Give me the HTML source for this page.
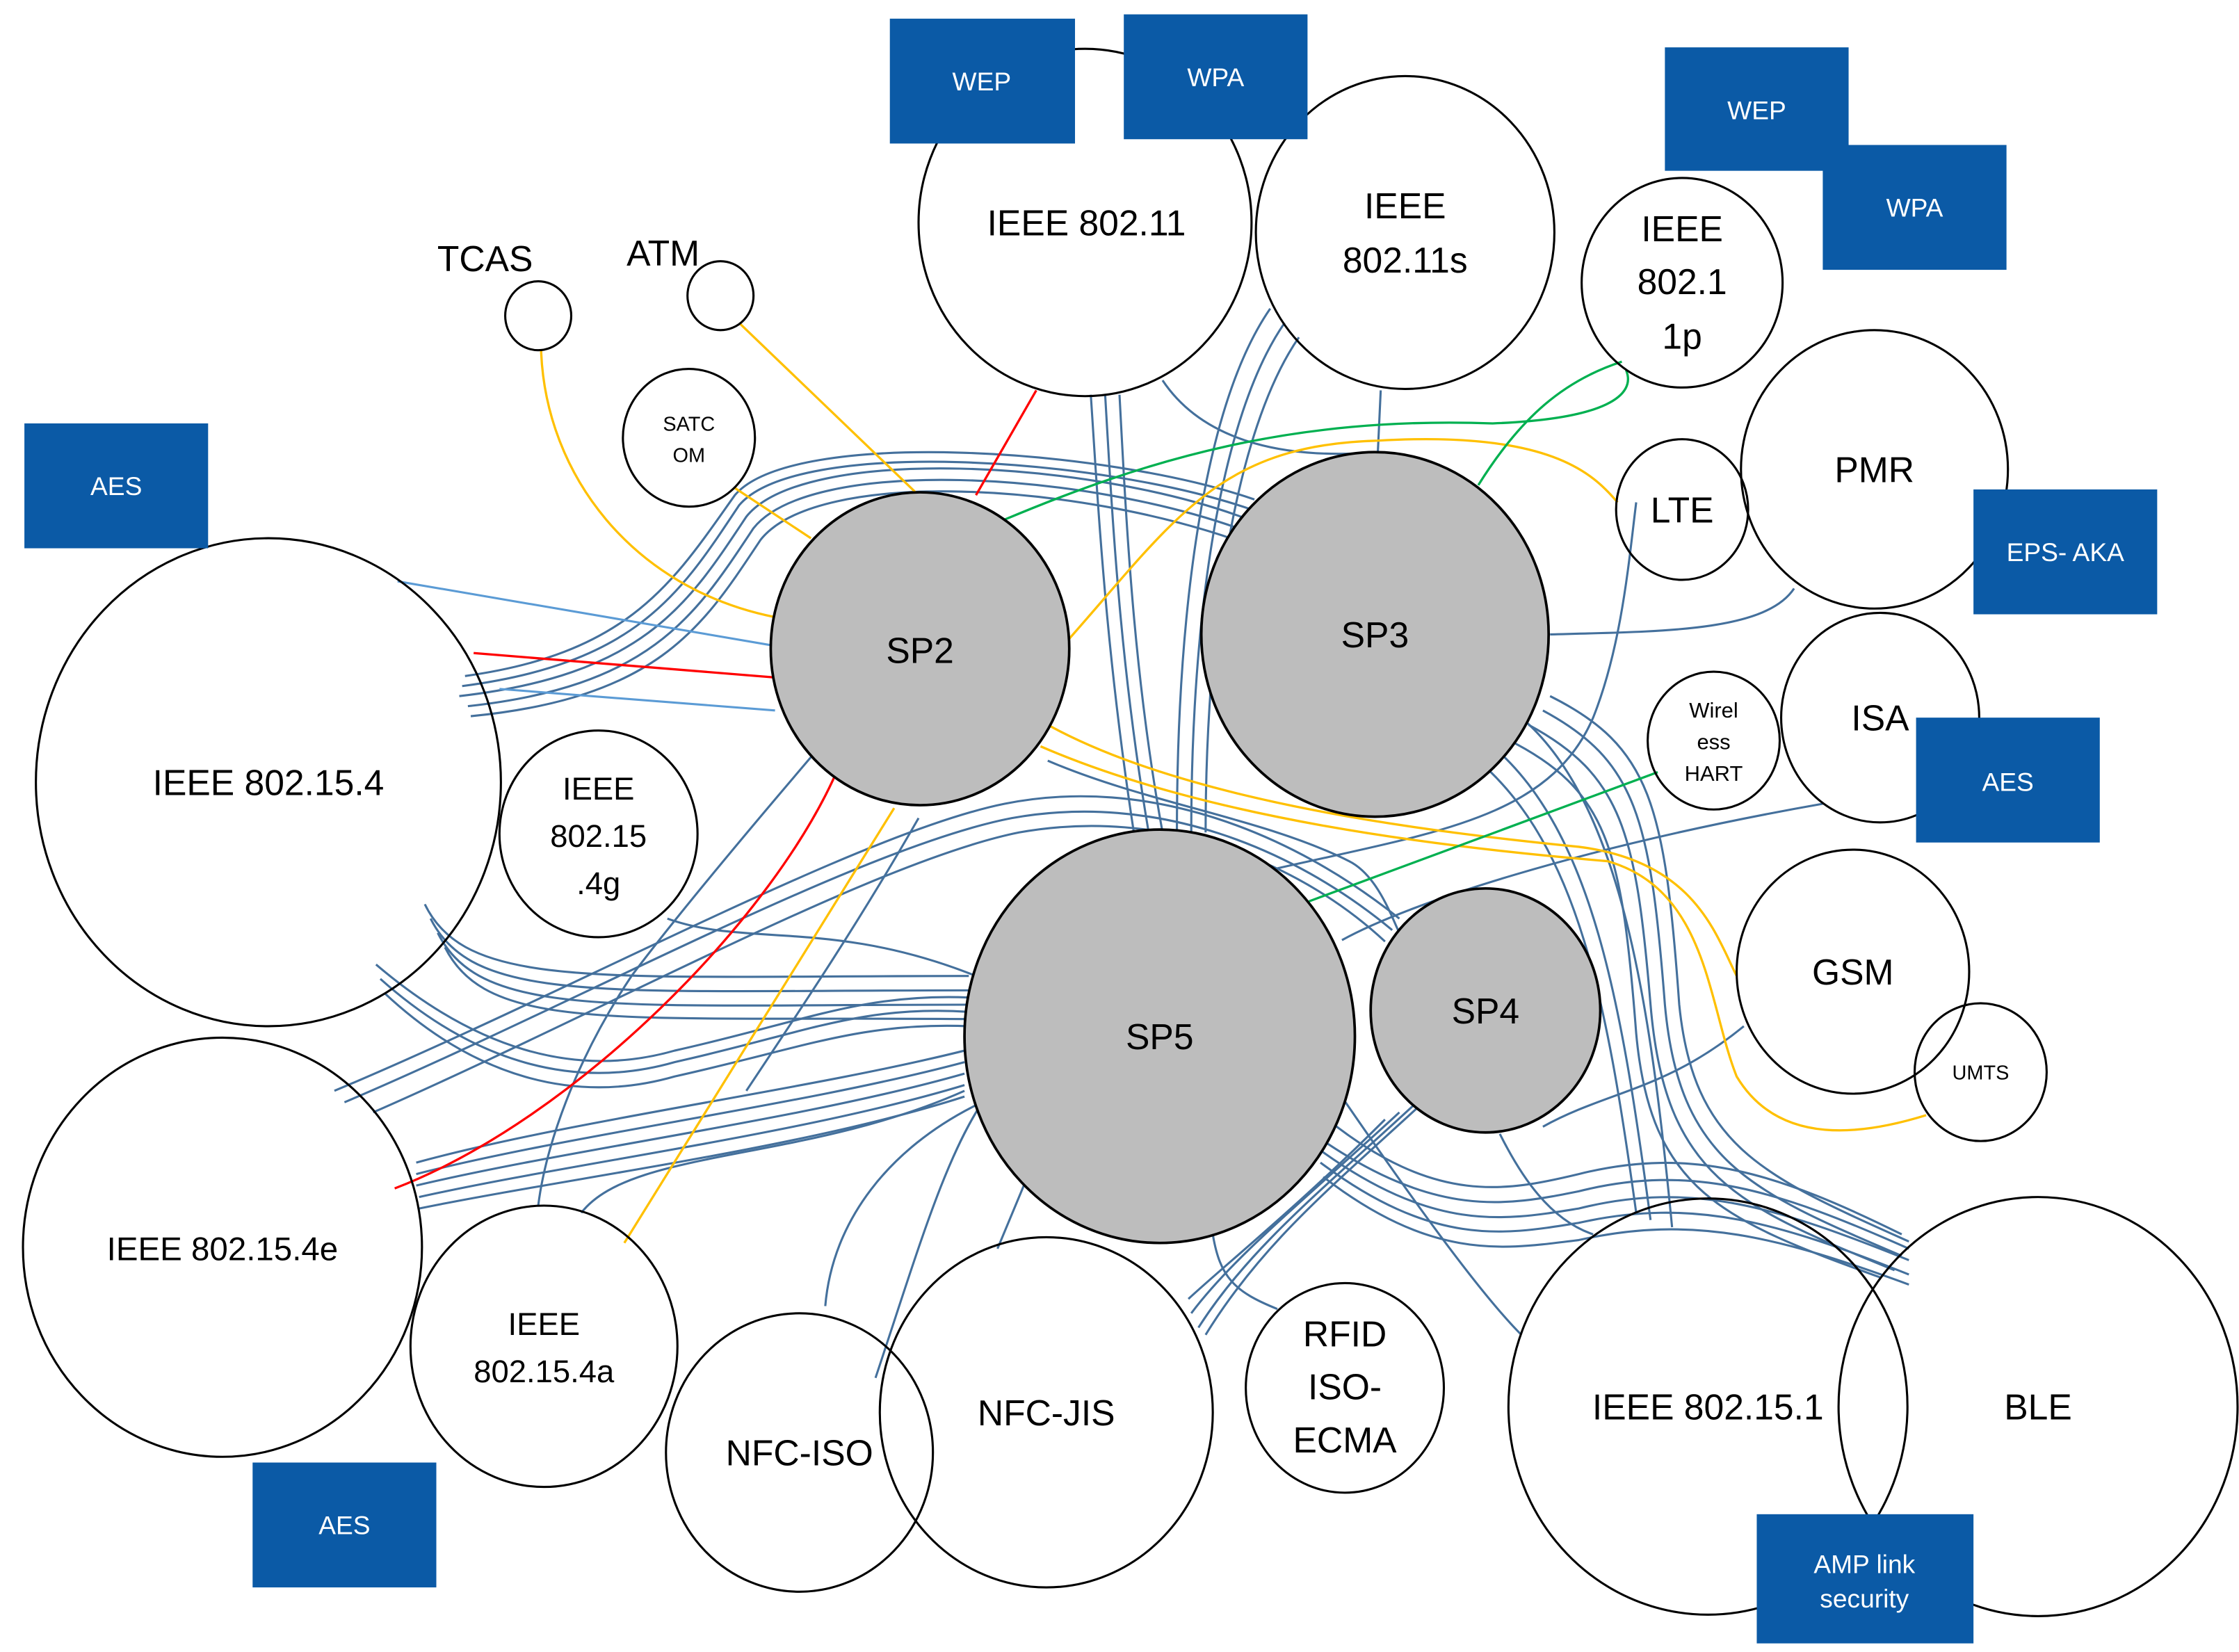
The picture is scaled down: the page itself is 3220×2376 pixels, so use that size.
<!DOCTYPE html>
<html><head><meta charset="utf-8"><style>
html,body{margin:0;padding:0;background:#fff}
svg{display:block}
text{font-family:"Liberation Sans",sans-serif}
</style></head><body>
<svg width="3220" height="2376" viewBox="0 0 1560 1151" preserveAspectRatio="none" xmlns="http://www.w3.org/2000/svg">
<rect width="1560" height="1151" fill="#fff"/>
<g fill="none" stroke="#44709c" stroke-width="1.5">
<!-- bundle 802.15.4 -> SP3 over the top -->
<path d="M320,485 C450,470 480,420 520,360 C560,310 760,320 870,362"/>
<path d="M322,478 C445,462 475,412 515,352 C555,305 765,318 872,355"/>
<path d="M324,471 C440,455 470,404 512,345 C552,298 770,312 874,348"/>
<path d="M326,492 C455,478 485,428 525,368 C565,318 755,328 868,370"/>
<path d="M328,499 C460,486 490,436 530,376 C570,326 750,336 866,378"/>
<!-- bundle 802.15.4 bottom -> SP5 -->
<path d="M300,640 C330,700 420,690 675,690"/>
<path d="M305,650 C335,710 425,700 675,700"/>
<path d="M310,660 C340,720 430,708 675,710"/>
<path d="M296,630 C325,690 415,680 675,680"/>
<path d="M265,682 C330,740 400,760 470,740 C560,720 600,700 675,705"/>
<path d="M268,692 C330,750 400,770 470,750 C560,730 600,712 675,715"/>
<path d="M262,672 C330,730 400,752 470,732 C560,712 600,692 675,695"/>
<!-- bundle 802.15.4e -> SP5 -->
<path d="M290,810 C400,780 560,760 672,732"/>
<path d="M290,818 C400,790 560,770 672,740"/>
<path d="M290,826 C400,800 560,780 672,748"/>
<path d="M292,834 C400,810 560,790 672,756"/>
<path d="M292,842 C400,820 560,800 672,764"/>
<!-- 802.15.4e up to SP3/SP4 region -->
<path d="M233,760 C400,690 600,580 700,560 C800,540 900,580 975,640"/>
<path d="M240,768 C400,700 600,590 705,570 C805,552 900,590 970,648"/>
<path d="M260,775 C420,705 610,600 710,580 C810,562 905,600 965,656"/>
<!-- 802.11 down to SP5 -->
<path d="M760,275 C765,350 770,450 790,580"/>
<path d="M770,275 C775,360 780,460 800,578"/>
<path d="M780,275 C785,370 790,470 810,580"/>
<path d="M810,265 C840,310 900,320 960,315"/>
<!-- 802.11s down -->
<path d="M885,215 C840,280 820,420 820,580"/>
<path d="M895,225 C850,290 830,430 830,580"/>
<path d="M905,235 C860,300 840,440 840,580"/>
<path d="M962,272 L960,315"/>
<!-- SP5 bottom-right -> BLE -->
<path d="M915,790 C1000,850 1050,840 1100,830 C1180,810 1240,830 1330,870"/>
<path d="M918,800 C1000,860 1050,850 1100,842 C1180,822 1240,842 1330,878"/>
<path d="M920,810 C1000,870 1050,860 1100,852 C1180,834 1240,852 1330,888"/>
<path d="M922,820 C1000,880 1050,870 1100,864 C1180,846 1240,862 1330,895"/>
<path d="M925,780 C1000,840 1050,830 1100,818 C1180,798 1240,818 1325,860"/>
<!-- SP3 right -> BLE -->
<path d="M1080,485 C1150,520 1160,560 1170,700 C1180,800 1230,820 1330,865"/>
<path d="M1075,495 C1140,530 1150,570 1160,700 C1170,810 1220,830 1325,875"/>
<path d="M1065,505 C1130,540 1140,580 1150,700 C1160,820 1210,840 1320,885"/>
<path d="M1050,515 C1120,550 1130,590 1140,720 C1150,830 1200,850 1310,890"/>
<!-- SP3 -> 802.15.1 verticals -->
<path d="M1040,520 C1110,580 1130,700 1150,850"/>
<path d="M1030,530 C1100,590 1120,700 1140,845"/>
<path d="M1060,500 C1130,560 1150,700 1165,855"/>
<!-- SP4 bottom -> down-left -->
<path d="M985,770 C920,830 870,870 835,925"/>
<path d="M975,775 C910,835 860,875 830,915"/>
<path d="M965,780 C905,840 855,880 828,905"/>
<path d="M995,765 C930,825 880,865 840,930"/>
<!-- SP2 lower -> left -->
<path d="M580,510 C520,580 470,640 440,680 C400,740 380,800 375,840"/>
<path d="M640,570 C600,640 560,700 520,760"/>
<!-- NFC -> SP5 -->
<path d="M575,910 C580,850 620,800 680,770"/>
<path d="M610,960 C640,870 660,800 690,760"/>
<path d="M695,870 L720,810"/>
<path d="M405,845 C440,800 560,810 672,760"/>
<!-- RFID -->
<path d="M890,912 C860,900 850,890 845,860"/>
<!-- misc -->
<path d="M465,640 C520,660 580,640 680,680"/>
<path d="M730,530 C800,560 880,570 940,600 C960,610 970,640 975,650"/>
<path d="M1080,442 C1160,440 1230,440 1250,410"/>
<path d="M890,605 C1000,580 1080,570 1110,500 C1130,450 1135,390 1140,350"/>
<path d="M935,655 C980,630 1100,590 1270,560"/>
<path d="M1215,715 C1160,760 1120,760 1075,785"/>
<path d="M1045,790 C1060,820 1080,850 1110,860"/>
<path d="M932,760 C980,830 1030,900 1060,930"/>
</g>
<!-- light blue -->
<g fill="none" stroke="#5b9bd5" stroke-width="1.5">
<path d="M277,405 L540,450"/>
<path d="M348,480 L540,495"/>
</g>
<!-- orange -->
<g fill="none" stroke="#ffc000" stroke-width="1.6">
<path d="M377,244 C380,330 440,410 540,430"/>
<path d="M515,225 L640,345"/>
<path d="M512,340 L565,375"/>
<path d="M745,445 C820,360 850,310 960,307 C1080,300 1110,330 1127,350"/>
<path d="M730,505 C830,560 1000,580 1100,590 C1180,600 1195,650 1210,680"/>
<path d="M725,520 C840,570 1000,590 1120,600 C1190,620 1190,700 1210,750 C1240,800 1300,790 1342,777"/>
<path d="M623,563 L435,866"/>
</g>
<!-- red -->
<g fill="none" stroke="#ff0000" stroke-width="1.6">
<path d="M680,345 L722,272"/>
<path d="M330,455 L540,472"/>
<path d="M585,533 C540,640 400,780 275,828"/>
</g>
<!-- green -->
<g fill="none" stroke="#00b050" stroke-width="1.6">
<path d="M700,362 C800,320 900,290 1040,295 C1120,292 1140,275 1133,258"/>
<path d="M1030,338 C1060,290 1090,265 1130,252"/>
<path d="M912,628 L1155,538"/>
</g>
<!-- circles -->
<g fill="none" stroke="#000" stroke-width="1.5">
<ellipse cx="756" cy="155" rx="116" ry="121"/>
<ellipse cx="979" cy="162" rx="104" ry="109"/>
<ellipse cx="1172" cy="197" rx="70" ry="73"/>
<ellipse cx="375" cy="220" rx="23" ry="24"/>
<ellipse cx="502" cy="206" rx="23" ry="24"/>
<ellipse cx="480" cy="305" rx="46" ry="48"/>
<ellipse cx="187" cy="545" rx="162" ry="170"/>
<ellipse cx="417" cy="581" rx="69" ry="72"/>
<ellipse cx="1172" cy="355" rx="46" ry="49"/>
<ellipse cx="1306" cy="327" rx="93" ry="97"/>
<ellipse cx="1194" cy="516" rx="46" ry="48"/>
<ellipse cx="1310" cy="500" rx="69" ry="73"/>
<ellipse cx="1291" cy="677" rx="81" ry="85"/>
<ellipse cx="1380" cy="747" rx="46" ry="48"/>
<ellipse cx="155" cy="869" rx="139" ry="146"/>
<ellipse cx="379" cy="938" rx="93" ry="98"/>
<ellipse cx="557" cy="1012" rx="93" ry="97"/>
<ellipse cx="729" cy="984" rx="116" ry="122"/>
<ellipse cx="937" cy="967" rx="69" ry="73"/>
<ellipse cx="1190" cy="980" rx="139" ry="145"/>
<ellipse cx="1420" cy="980" rx="139" ry="146"/>
</g>
<g fill="#bdbdbd" stroke="#000" stroke-width="1.8">
<ellipse cx="641" cy="452" rx="104" ry="109"/>
<ellipse cx="958" cy="442" rx="121" ry="127"/>
<ellipse cx="808" cy="722" rx="136" ry="144"/>
<ellipse cx="1035" cy="704" rx="80" ry="85"/>
</g>
<!-- boxes -->
<g fill="#0b5aa6">
<rect x="620" y="13" width="129" height="87"/>
<rect x="783" y="10" width="128" height="87"/>
<rect x="1160" y="33" width="128" height="86"/>
<rect x="1270" y="101" width="128" height="87"/>
<rect x="17" y="295" width="128" height="87"/>
<rect x="1375" y="341" width="128" height="87"/>
<rect x="1335" y="500" width="128" height="87"/>
<rect x="176" y="1019" width="128" height="87"/>
<rect x="1224" y="1055" width="151" height="90"/>
</g>
<g fill="#fff" font-size="18" text-anchor="middle">
<text x="684" y="63">WEP</text>
<text x="847" y="60">WPA</text>
<text x="1224" y="83">WEP</text>
<text x="1334" y="151">WPA</text>
<text x="81" y="345">AES</text>
<text x="1439" y="391">EPS- AKA</text>
<text x="1399" y="551">AES</text>
<text x="240" y="1069">AES</text>
<text x="1299" y="1096">AMP link</text>
<text x="1299" y="1120">security</text>
</g>
<g fill="#000" text-anchor="middle" font-size="25">
<text x="757" y="164">IEEE 802.11</text>
<text x="979" y="152">IEEE</text>
<text x="979" y="190">802.11s</text>
<text x="1172" y="168">IEEE</text>
<text x="1172" y="205">802.1</text>
<text x="1172" y="243">1p</text>
<text x="338" y="189">TCAS</text>
<text x="462" y="185">ATM</text>
<text x="187" y="554">IEEE 802.15.4</text>
<text x="417" y="557" font-size="22">IEEE</text>
<text x="417" y="590" font-size="22">802.15</text>
<text x="417" y="623" font-size="22">.4g</text>
<text x="641" y="462">SP2</text>
<text x="958" y="451">SP3</text>
<text x="808" y="731">SP5</text>
<text x="1035" y="713">SP4</text>
<text x="1172" y="364">LTE</text>
<text x="1306" y="336">PMR</text>
<text x="1310" y="509">ISA</text>
<text x="1291" y="686">GSM</text>
<text x="155" y="878" font-size="23">IEEE  802.15.4e</text>
<text x="379" y="930" font-size="22">IEEE</text>
<text x="379" y="963" font-size="22">802.15.4a</text>
<text x="557" y="1021">NFC-ISO</text>
<text x="729" y="993">NFC-JIS</text>
<text x="937" y="938">RFID</text>
<text x="937" y="975">ISO-</text>
<text x="937" y="1012">ECMA</text>
<text x="1190" y="989">IEEE 802.15.1</text>
<text x="1420" y="989">BLE</text>
<text x="480" y="300" font-size="14">SATC</text>
<text x="480" y="322" font-size="14">OM</text>
<text x="1194" y="500" font-size="15">Wirel</text>
<text x="1194" y="522" font-size="15">ess</text>
<text x="1194" y="544" font-size="15">HART</text>
<text x="1380" y="752" font-size="14">UMTS</text>
</g>
</svg>
</body></html>
